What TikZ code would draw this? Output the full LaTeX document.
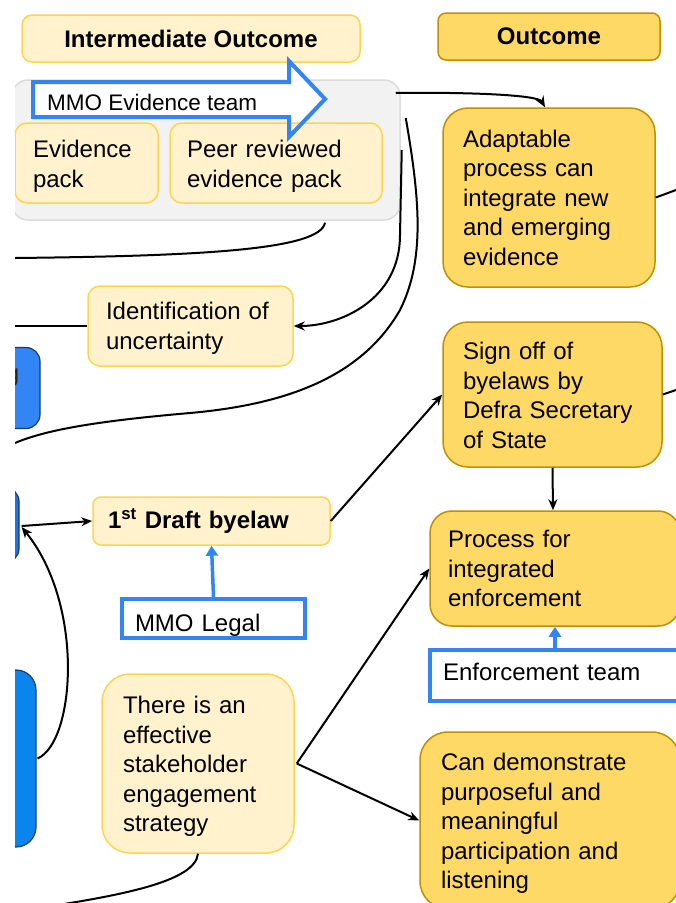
\documentclass[tikz,border=0pt]{standalone}
\usepackage{fontspec}
\setmainfont{Liberation Sans}
\usetikzlibrary{arrows.meta,calc}
\definecolor{lyel}{HTML}{FFF2CC}
\definecolor{lyelb}{HTML}{FFD54F}
\definecolor{dyel}{HTML}{FFD966}
\definecolor{dyelb}{HTML}{BF9000}
\definecolor{mblue}{HTML}{3385F3}
\definecolor{bfillA}{HTML}{3385F5}
\definecolor{bfillB}{HTML}{1D72E6}
\definecolor{bfillC}{HTML}{0B85EE}
\definecolor{bedge}{HTML}{1B3A6B}
\definecolor{gfill}{HTML}{F2F2F2}
\definecolor{gedge}{HTML}{DCDCDC}
\newcommand{\tpad}[1]{\rule{0pt}{#1}}
\newcommand{\bpad}[1]{\rule[-#1]{0pt}{#1}}
\tikzset{
  txt/.style={font=\fontsize{24}{29.5}\selectfont},
  lbox/.style={draw=lyelb, fill=lyel, line width=1.5pt, inner ysep=0pt, align=left, txt},
  dbox/.style={draw=dyelb, fill=dyel, line width=1.5pt, inner ysep=0pt, align=left, txt},
  bluebox/.style={draw=mblue, fill=white, line width=4pt, inner ysep=0pt, align=left, txt},
  sidebox/.style={draw=bedge, line width=1.2pt, rounded corners=14pt, inner sep=0pt},
  conn/.style={line width=2pt, draw=black},
  arr/.style={conn, -{Stealth[length=11pt,width=9pt]}},
  barr/.style={draw=mblue, line width=3.5pt, -{Triangle[length=10pt,width=12pt]}},
}
\begin{document}
\begin{tikzpicture}[x=1pt,y=-1pt]
\useasboundingbox (0,0) rectangle (676,903);
\fill[white] (0,0) rectangle (676,903);
\begin{scope}
\clip (15,0) rectangle (676,903);

% headers
\node[lbox, rounded corners=10pt, minimum width=338pt, minimum height=47pt, align=center, font=\fontsize{24}{29.5}\selectfont\bfseries] (inter) at (191,38.5) {Intermediate Outcome};
\node[dbox, rounded corners=8pt, minimum width=222pt, minimum height=47pt, align=center, font=\fontsize{24}{29.5}\selectfont\bfseries] (outc) at (549,36.5) {Outcome};

% gray group
\node[draw=gedge, fill=gfill, line width=1.5pt, rounded corners=16pt, minimum width=388pt, minimum height=140pt, inner sep=0pt] (gray) at (206,150) {};

% block arrow (fill)
\coordinate (aA) at (33,82);
\coordinate (aB) at (289,82);
\coordinate (aC) at (289,61);
\coordinate (aD) at (325,99);
\coordinate (aE) at (289,137);
\coordinate (aF) at (289,117);
\coordinate (aG) at (33,117);
\fill[white] (aA) -- (aB) -- (aC) -- (aD) -- (aE) -- (aF) -- (aG) -- cycle;

\node[lbox, rounded corners=12pt, minimum width=143pt, minimum height=80pt, text width=107pt, inner xsep=18pt] (evp) at (86.5,163) {\tpad{23.5pt}Evidence\\pack};
\node[lbox, rounded corners=12pt, minimum width=212pt, minimum height=80pt, text width=178pt, inner xsep=17pt] (peer) at (276,163) {\tpad{23.5pt}Peer reviewed\\evidence pack};

\draw[mblue, line width=4pt, line join=miter] (aA) -- (aB) -- (aC) -- (aD) -- (aE) -- (aF) -- (aG) -- cycle;
\node[anchor=west, inner sep=0pt, font=\fontsize{22.5}{27}\selectfont] (mmoev) at (47,102) {MMO Evidence team};

% outcomes
\node[dbox, rounded corners=25pt, minimum width=212pt, minimum height=179pt, text width=172pt, inner xsep=20pt] (adapt) at (549,197.5) {Adaptable\\process can\\integrate new\\and emerging\\evidence};
\node[dbox, rounded corners=25pt, minimum width=219pt, minimum height=145pt, text width=179pt, inner xsep=20pt] (sign) at (552.5,394.5) {\tpad{19.7pt}Sign off of\\byelaws by\\Defra Secretary\\of State};
\node[dbox, rounded corners=22pt, minimum width=250pt, minimum height=115pt, text width=214pt, inner xsep=18pt] (proc) at (555,568.5) {Process for\\integrated\\enforcement};
\node[bluebox, minimum width=262pt, minimum height=51pt, text width=236pt, inner xsep=13pt] (enf) at (561,675.5) {Enforcement team\bpad{8pt}};
\node[dbox, rounded corners=28pt, minimum width=260pt, minimum height=177pt, text width=218pt, inner xsep=21pt] (demo) at (550,820.5) {\tpad{23.5pt}Can demonstrate\\purposeful and\\meaningful\\participation and\\listening};

% intermediate
\node[lbox, rounded corners=12pt, minimum width=205pt, minimum height=80pt, text width=169pt, inner xsep=18pt] (ident) at (190.5,326) {\tpad{21.5pt}Identification of\\uncertainty};
\node[lbox, rounded corners=8pt, minimum width=237pt, minimum height=48pt, text width=207pt, inner xsep=15pt, font=\fontsize{24}{29.5}\selectfont\bfseries] (draft) at (211.5,521) {1\textsuperscript{st} Draft byelaw};
\node[bluebox, minimum width=183pt, minimum height=39pt, text width=157pt, inner xsep=13pt] (legal) at (213.5,618.5) {\tpad{31pt}MMO Legal};
\node[lbox, rounded corners=28pt, minimum width=192pt, minimum height=179pt, text width=150pt, inner xsep=21pt] (stake) at (198,763.5) {\tpad{23.5pt}There is an\\effective\\stakeholder\\engagement\\strategy};

% left blue boxes
\node[sidebox, fill=bfillA, minimum width=100pt, minimum height=81pt] (blA) at (-10,388) {};
\node[anchor=base east, inner sep=0pt, txt, text=black!85] (blAt) at (19.5,381) {g};
\node[sidebox, fill=bfillB, minimum width=80pt, minimum height=75pt] (blB) at (-21,525) {};
\node[sidebox, fill=bfillC, rounded corners=20pt, minimum width=100pt, minimum height=177pt] (blC) at (-14,758.5) {};

% connectors
\coordinate (offA) at (676,190);
\coordinate (offS) at (676,390);
\coordinate (offL1) at (15,258);
\coordinate (offL2) at (15,443);
\coordinate (offL3) at (15,326);
\coordinate (offL4) at (25,910);

\draw[arr] ($(gray.east)+(-5,-57)$) .. controls (470,92) and (538,95) .. ($(adapt.north)+(-4,0)$);
\draw[arr] ($(gray.east)+(1,0)$) -- (400,235) .. controls (400,300) and (340,326) .. (ident.east);
\draw[conn] ($(gray.east)+(5,-32)$) .. controls (420,200) and (425,260) .. (400,310) .. controls (360,380) and (280,405) .. (190,413) .. controls (110,420) and (50,428) .. (offL2);
\draw[conn] ($(gray.south)+(119,2)$) .. controls (320,250) and (200,256) .. (offL1);
\draw[conn] (offL3) -- (ident.west);
\draw[conn] (adapt.east) -- (offA);
\draw[conn] (sign.east) -- (offS);

\draw[arr] ($(blB.east)+(2,1)$) -- (draft.west);
\draw[arr] ($(blC.east)+(1,0)$) .. controls (75,742) and (85,605) .. ($(blB.east)+(2,2)$);
\draw[arr] (draft.east) -- (sign.west);
\draw[arr] ($(sign.south)+(0,0)$) -- ($(proc.north)+(-2,0)$);
\draw[barr] (legal.north) -- (draft.south);
\draw[barr] ($(enf.north)+(-6,0)$) -- ($(proc.south)+(0,0)$);
\draw[arr] ($(stake.east)+(2,0)$) -- (proc.west);
\draw[arr] ($(stake.east)+(2,0)$) -- (demo.west);
\draw[conn] (stake.south) .. controls (195,882) and (120,896) .. (offL4);
\end{scope}
\end{tikzpicture}
\end{document}
